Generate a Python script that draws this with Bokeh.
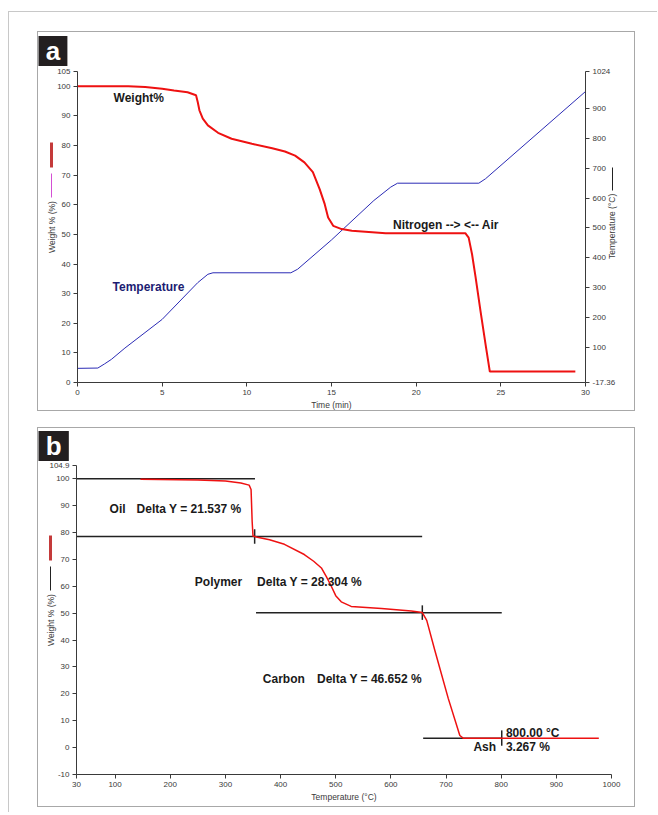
import math
from bokeh.plotting import figure
from bokeh.models import Label, FixedTicker, Spacer, LinearAxis, Range1d
from bokeh.layouts import column, row
from bokeh.embed import file_html
from bokeh.resources import INLINE

# ---------------- Panel a data (time in min) ----------------
time_w = [0, 3, 4, 5, 5.7, 6.5, 7.0, 7.1, 7.2, 7.4, 7.7, 8.3, 9.1, 10.3, 11.5, 12.25,
          12.85, 13.4, 13.9, 14.3, 14.6, 14.8, 15.1, 15.6, 16.2, 17.0, 18.2, 22.9,
          23.1, 23.3, 23.5, 23.8, 24.1, 24.35, 29.4]
weight_a = [100, 100, 99.8, 99.2, 98.6, 98.0, 97.0, 94.7, 91.9, 89.1, 86.8, 84.3, 82.3,
            80.6, 79.1, 78.0, 76.6, 74.3, 71.0, 65.3, 60.2, 55.7, 52.9, 51.8, 51.2,
            50.9, 50.4, 50.4, 48.9, 43.3, 35.9, 24.1, 12.8, 3.7, 3.7]
time_t = [0, 1.2, 1.6, 2.0, 2.8, 5.0, 7.1, 7.7, 8.0, 12.6, 13.0, 15.0, 17.5, 18.5,
          18.9, 23.7, 24.1, 30]
temp_a = [30, 31, 45, 60, 98, 194, 317, 345, 350, 350, 362, 460, 592, 637, 650, 650,
          665, 957]
time_ticks = [0, 5, 10, 15, 20, 25, 30]
weight_ticks_a = [0, 10, 20, 30, 40, 50, 60, 70, 80, 90, 100, 105]
temp_ticks = [-17.36, 100, 200, 300, 400, 500, 600, 700, 800, 900, 1024]
temp_tick_labels = ["-17.36", "100", "200", "300", "400", "500", "600", "700", "800",
                    "900", "1024"]

# ---------------- Panel b data (temperature in C) ----------------
temp_b = [146, 250, 300, 328, 343, 346.5, 347.5, 348.5, 350, 358, 380, 407, 443, 460,
          474, 483, 492, 500, 510, 528, 583, 637, 657, 665, 680, 704, 725, 731, 977]
weight_b = [99.8, 99.5, 99.1, 98.4, 97.6, 96.0, 90.0, 84.0, 78.7, 78.2, 77.3, 75.6,
            71.8, 69.3, 66.8, 63.6, 60.0, 56.5, 54.2, 52.5, 51.7, 50.8, 50.2, 47.3,
            35.9, 18.3, 4.5, 3.5, 3.47]
step_levels = [100, 78.463, 50.159, 3.507]
step_start = [30, 30, 355.5, 658.5]
step_end = [353.6, 656.7, 801, 801]
mark_x = [353, 657, 801]
mark_top = [81.2, 52.9, 6.4]
mark_bottom = [75.8, 47.5, 0.7]
temp_ticks_b = [30, 100, 200, 300, 400, 500, 600, 700, 800, 900, 1000]
weight_ticks_b = [-10, 0, 10, 20, 30, 40, 50, 60, 70, 80, 90, 100, 104.9]
weight_tick_labels_b = ["-10", "0", "10", "20", "30", "40", "50", "60", "70", "80",
                        "90", "100", "104.9"]

FONT = "Liberation Sans"
AX = "#3a3a3a"
NBSP = "\u00a0"


def style_axis(ax):
    ax.axis_line_color = AX
    ax.major_tick_line_color = AX
    ax.minor_tick_line_color = None
    ax.major_tick_out = 4
    ax.major_tick_in = 0
    ax.minor_tick_out = 0
    ax.minor_tick_in = 0
    ax.major_label_text_font = FONT
    ax.major_label_text_font_size = "8px"
    ax.major_label_text_color = AX
    ax.major_label_standoff = 3
    ax.axis_label_text_font = FONT
    ax.axis_label_text_font_size = "8.5px"
    ax.axis_label_text_font_style = "normal"
    ax.axis_label_text_color = AX
    ax.axis_label_standoff = 2


def set_standoff(ax, s, attr="axis_label_standoff"):
    try:
        setattr(ax, attr, s)
    except ValueError:
        setattr(ax, attr, 0)


def spacer_label(ax, standoff):
    # invisible label that only adjusts the width of the axis panel
    ax.axis_label = NBSP
    ax.axis_label_text_font_size = "1px"
    set_standoff(ax, standoff)


def bare_axis(p, side, label=None, line_color=None, line_width=1, bounds=None,
              standoff=-5):
    ax = LinearAxis(ticker=FixedTicker(ticks=[]))
    ax.major_tick_out = 0
    ax.major_tick_in = 0
    ax.minor_tick_out = 0
    ax.minor_tick_in = 0
    ax.major_label_standoff = 0
    ax.major_label_text_font_size = "1px"
    ax.axis_line_color = line_color
    ax.axis_line_width = line_width
    if bounds is not None:
        ax.bounds = bounds
    if label is not None:
        ax.axis_label = label
        ax.axis_label_text_font = FONT
        ax.axis_label_text_font_size = "8.5px"
        ax.axis_label_text_font_style = "normal"
        ax.axis_label_text_color = AX
        set_standoff(ax, standoff)
    else:
        ax.axis_label_standoff = 0
    p.add_layout(ax, side)
    return ax


def tick_title(p, side, label, at, standoff=0):
    # a text that reads bottom-to-top, starting at data position `at`
    ax = LinearAxis(ticker=FixedTicker(ticks=[at]), major_label_overrides={at: label})
    ax.axis_line_color = None
    ax.major_tick_out = 0
    ax.major_tick_in = 0
    ax.minor_tick_out = 0
    ax.minor_tick_in = 0
    ax.major_tick_line_color = None
    ax.major_label_text_font = FONT
    ax.major_label_text_font_size = "8.5px"
    ax.major_label_text_color = AX
    ax.major_label_orientation = math.pi / 2
    set_standoff(ax, standoff, "major_label_standoff")
    p.add_layout(ax, side)
    return ax


def txt(p, x, y, s, color="#1a1a1a", size="12px", bold=True):
    p.add_layout(Label(x=x, y=y, text=s, text_font=FONT, text_font_size=size,
                       text_font_style="bold" if bold else "normal", text_color=color,
                       text_baseline="middle", text_align="left"))


def badge(p, letter, offset, standoff):
    t = p.title
    t.text = NBSP + letter + NBSP
    t.align = "left"
    t.vertical_align = "top"
    t.offset = offset
    t.standoff = standoff
    t.text_font = FONT
    t.text_font_size = "26px"
    t.text_font_style = "bold"
    t.text_color = "white"
    t.background_fill_color = "#231f20"


BOX = {"border": "1px solid #a8a8a8"}

# ---------------- Panel a ----------------
pa = figure(width=598, height=380, x_range=(0, 30), y_range=(0, 105),
            output_backend="svg", toolbar_location=None, title="a",
            min_border_left=39, min_border_right=51, min_border_top=39, min_border_bottom=29,
            styles=BOX)
pa.outline_line_color = None
pa.grid.visible = False
pa.extra_y_ranges = {"temp": Range1d(-17.36, 1024)}
pa.xaxis.ticker = FixedTicker(ticks=time_ticks)
pa.yaxis.ticker = FixedTicker(ticks=weight_ticks_a)
pa.xaxis.axis_label = "Time (min)"
rax = LinearAxis(y_range_name="temp", ticker=FixedTicker(ticks=temp_ticks),
                 major_label_overrides=dict(zip(temp_ticks, temp_tick_labels)))
pa.add_layout(rax, "right")
for ax in [pa.xaxis[0], pa.yaxis[0], rax]:
    style_axis(ax)
spacer_label(pa.yaxis[0], -1)
spacer_label(rax, -10)

bare_axis(pa, "left", line_color="#c43a3a", line_width=3, bounds=(72.6, 81.1))
bare_axis(pa, "left", line_color="#d44fd4", line_width=1, bounds=(62.5, 70.4))
bare_axis(pa, "left", label="Weight % (%)")
bare_axis(pa, "right", line_color="#222222", line_width=1, bounds=(64.7, 72.6))
tick_title(pa, "right", "Temperature (°C)", 41.7, standoff=0)
badge(pa, "a", -39, 7)

pa.line(time_t, temp_a, y_range_name="temp", line_color="#2b2bb5", line_width=1)
pa.line(time_w, weight_a, line_color="#ee1111", line_width=2)

txt(pa, 2.13, 96.2, "Weight%")
txt(pa, 2.07, 32.2, "Temperature", color="#1c1c72")
txt(pa, 18.63, 53.2, "Nitrogen -->  <-- Air")

# ---------------- Panel b ----------------
pb = figure(width=598, height=380, x_range=(30, 1000), y_range=(-10, 104.9),
            output_backend="svg", toolbar_location=None, title="b",
            min_border_left=38, min_border_right=25, min_border_top=37, min_border_bottom=34,
            styles=BOX)
pb.outline_line_color = None
pb.grid.visible = False
pb.xaxis.ticker = FixedTicker(ticks=temp_ticks_b)
pb.yaxis.ticker = FixedTicker(ticks=weight_ticks_b)
pb.yaxis.major_label_overrides = dict(zip(weight_ticks_b, weight_tick_labels_b))
pb.xaxis.axis_label = "Temperature (°C)"
for ax in [pb.xaxis[0], pb.yaxis[0]]:
    style_axis(ax)
spacer_label(pb.yaxis[0], -8)

bare_axis(pb, "left", line_color="#c43a3a", line_width=3, bounds=(69.6, 78.7))
bare_axis(pb, "left", line_color="#222222", line_width=1, bounds=(58.3, 67.2))
bare_axis(pb, "left", label="Weight % (%)")
badge(pb, "b", -38, 5)

pb.segment(x0=step_start, y0=step_levels, x1=step_end, y1=step_levels,
           line_color="#222222", line_width=1.5)
pb.segment(x0=mark_x, y0=mark_top, x1=mark_x, y1=mark_bottom,
           line_color="#222222", line_width=1.5)
pb.line(temp_b, weight_b, line_color="#ee1111", line_width=1.5)

txt(pb, 90, 88.8, "Oil")
txt(pb, 139, 88.8, "Delta Y = 21.537 %")
txt(pb, 244.6, 61.5, "Polymer")
txt(pb, 357.4, 61.5, "Delta Y = 28.304 %")
txt(pb, 367.8, 25.4, "Carbon")
txt(pb, 466, 25.4, "Delta Y = 46.652 %")
txt(pb, 808.5, 5.5, "800.00 °C")
txt(pb, 808.5, 0.3, "3.267 %")
txt(pb, 749.7, 0.3, "Ash")

body = column(Spacer(height=19),
              row(Spacer(width=28), pa, Spacer(width=22)),
              Spacer(height=16),
              row(Spacer(width=28), pb),
              Spacer(height=5),
              styles={"border-left": "1px solid #c8c8c8", "border-top": "1px solid #c8c8c8"})
root = column(Spacer(height=11), row(Spacer(width=8), body))

open("out.html", "w").write(file_html(root, INLINE))
